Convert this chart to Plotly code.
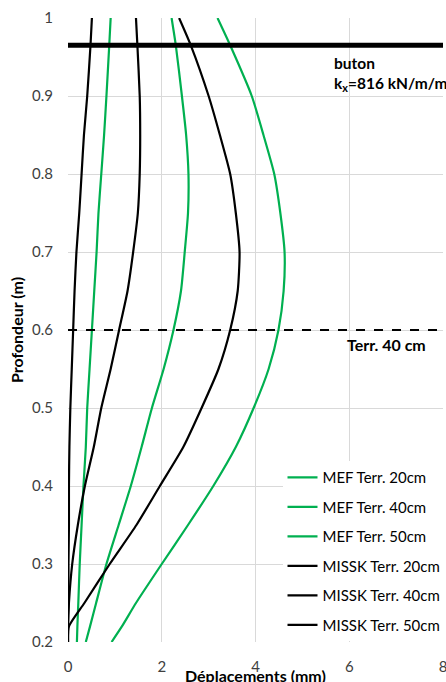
import plotly.graph_objects as go

# depth (m) shared by all profiles
depth = [1.0, 0.965, 0.9, 0.85, 0.8, 0.75, 0.7, 0.65, 0.6, 0.55, 0.5,
         0.45, 0.4, 0.35, 0.3, 0.25, 0.22, 0.2]

# displacements (mm)
mef_20 = [0.91, 0.88, 0.82, 0.77, 0.71, 0.65, 0.61, 0.56, 0.51, 0.46, 0.41,
          0.38, 0.33, 0.29, 0.25, 0.22, 0.20, 0.19]
mef_40 = [2.21, 2.30, 2.43, 2.52, 2.57, 2.56, 2.49, 2.41, 2.25, 2.04, 1.79,
          1.57, 1.34, 1.08, 0.82, 0.60, 0.47, 0.38]
mef_50 = [3.19, 3.46, 3.92, 4.17, 4.40, 4.53, 4.62, 4.60, 4.49, 4.28, 3.96,
          3.58, 3.10, 2.56, 2.00, 1.45, 1.15, 0.93]
missk_20 = [0.51, 0.48, 0.41, 0.34, 0.29, 0.24, 0.18, 0.14, 0.11, 0.08, 0.05,
            0.03, 0.02, 0.02, 0.01, 0.01, 0.0, 0.0]
missk_40 = [1.45, 1.48, 1.53, 1.54, 1.53, 1.49, 1.39, 1.27, 1.09, 0.91, 0.71,
            0.55, 0.36, 0.21, 0.09, 0.02, 0.0, 0.0]
missk_50 = [2.37, 2.62, 3.00, 3.24, 3.46, 3.58, 3.66, 3.62, 3.46, 3.21, 2.85,
            2.46, 1.96, 1.46, 0.89, 0.35, 0.02, 0.0]

buton_depth = 0.965
terr_depth = 0.6

green = '#00B050'
font = 'Lato, Calibri, sans-serif'

fig = go.Figure()

series = [('MEF Terr. 20cm', mef_20, green),
          ('MEF Terr. 40cm', mef_40, green),
          ('MEF Terr. 50cm', mef_50, green),
          ('MISSK Terr. 20cm', missk_20, 'black'),
          ('MISSK Terr. 40cm', missk_40, 'black'),
          ('MISSK Terr. 50cm', missk_50, 'black')]

for name, vals, col in series:
    fig.add_trace(go.Scatter(x=vals, y=depth, mode='lines', name=name,
                             legendgroup=name,
                             line=dict(color=col, width=2.2, shape='spline',
                                       smoothing=0.6),
                             hoverinfo='none'))

# buton line and excavation level
fig.add_shape(type='line', x0=0, x1=8, y0=buton_depth, y1=buton_depth,
              line=dict(color='black', width=5))
fig.add_shape(type='line', x0=0, x1=8, y0=terr_depth, y1=terr_depth,
              line=dict(color='black', width=1.8, dash='dash'))

fig.add_annotation(x=5.63, y=0.957, xanchor='left', yanchor='top',
                   text='<b>buton<br>k<sub>x</sub>=816 kN/m/m</b>', align='left',
                   showarrow=False, font=dict(size=15.5, color='black'))
fig.add_annotation(x=5.9, y=0.581, xanchor='left', yanchor='middle',
                   text='<b>Terr. 40 cm</b>', showarrow=False,
                   font=dict(size=16, color='black'))
# x axis title, sits tight under the tick labels
fig.add_annotation(x=0.5, y=-0.053, xref='paper', yref='paper',
                   xanchor='center', yanchor='middle',
                   text='<b>Déplacements (mm)</b>', showarrow=False,
                   font=dict(size=16, color='black'))

axis = dict(showgrid=True, gridcolor='#d9d9d9', gridwidth=1, zeroline=False,
            showline=False, ticks='', automargin=False,
            ticklabeloverflow='allow',
            tickfont=dict(size=15, color='#404040'))

fig.update_layout(
    width=446, height=682,
    margin=dict(l=68, r=3, t=18, b=40, autoexpand=False),
    font=dict(family=font, color='black'),
    plot_bgcolor='white', paper_bgcolor='white',
    xaxis=dict(axis, range=[0, 8], dtick=2, ticklabelstandoff=14),
    yaxis=dict(axis, range=[0.2, 1], dtick=0.1, tickformat='.1~f',
               ticklabelstandoff=14,
               title=dict(text='<b>Profondeur (m)</b>', standoff=4,
                          font=dict(size=16))),
    legend=dict(x=0.572, y=0.29, xanchor='left', yanchor='top',
                bgcolor='white', font=dict(size=15, color='black'),
                tracegroupgap=7, itemwidth=30),
    showlegend=True,
)

# drop the default 8px body margin so the figure fills the window
fig.write_html("out.html", config={'displayModeBar': False},
               post_script="document.body.style.margin='0';")
